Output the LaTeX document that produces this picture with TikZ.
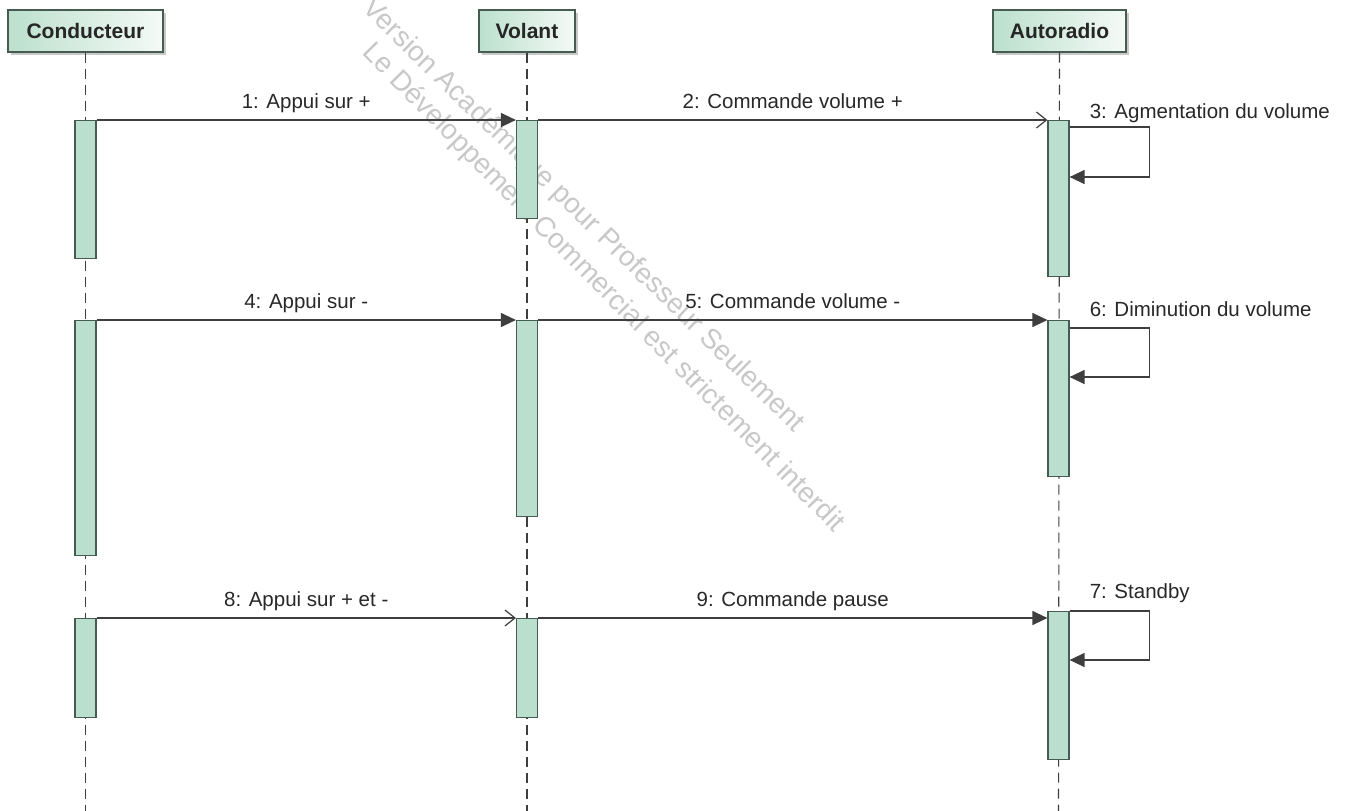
\documentclass[tikz,border=0pt]{standalone}
\usepackage{fontspec}
\setmainfont{Liberation Sans}
\usetikzlibrary{arrows.meta,shadows}

\definecolor{lineclr}{RGB}{62,62,62}
\definecolor{actfill}{RGB}{186,223,206}
\definecolor{actdraw}{RGB}{70,92,80}
\definecolor{headleft}{RGB}{188,224,205}
\definecolor{headright}{RGB}{244,250,247}
\definecolor{txtclr}{RGB}{40,40,40}
\definecolor{wmclr}{RGB}{200,200,200}

\tikzset{
  head/.style={draw=actdraw, line width=1.3pt, left color=headleft, right color=headright,
    minimum height=42pt, inner sep=0pt, text=black!85,
    font=\bfseries\fontsize{21}{24}\selectfont,
    drop shadow={shadow xshift=3pt, shadow yshift=-3pt, fill=black!35, opacity=0.6}},
  lifeline/.style={draw=lineclr, line width=1.1pt, dash pattern=on 10pt off 6pt},
  act/.style={draw=actdraw, fill=actfill, line width=1.2pt, minimum width=21pt,
    inner sep=0pt, anchor=north},
  msg/.style={draw=lineclr, line width=1.3pt},
  filled/.style={msg, -{Triangle[length=15pt,width=14pt]}},
  open/.style={msg, -{Straight Barb[length=10pt,width=16pt,line width=1.2pt]}},
  lbl/.style={text=txtclr, font=\fontsize{20.5}{24}\selectfont, inner sep=0pt},
  wm/.style={text=wmclr, font=\fontsize{28}{32}\selectfont, inner sep=0pt}
}

\begin{document}
\begin{tikzpicture}[x=1pt,y=-1pt]
\useasboundingbox (0,0) rectangle (1352,811);
\fill[white] (0,0) rectangle (1352,811);

% watermark lettering
\node[wm, rotate=-44.3] (wmA) at (583,216) {Version Académique pour Professeur Seulement};
\node[wm, rotate=-45.4] (wmB) at (603,288) {Le Développement Commercial est strictement interdit};

% lifeline heads
\node[head, minimum width=155pt] (cond) at (85.5,31) {Conducteur};
\node[head, minimum width=96pt] (vol) at (527,31) {Volant};
\node[head, minimum width=133pt] (auto) at (1059.5,31) {Autoradio};

\coordinate (condEnd) at (85.5,811);
\coordinate (volEnd) at (527,811);
\coordinate (autoEnd) at (1058.5,811);

\draw[lifeline] (cond.south) -- (condEnd);
\draw[lifeline] (vol.south) -- (volEnd);
\draw[lifeline] (auto.south) -- (autoEnd);

% activation bars
\node[act, minimum height=138pt] (c1) at (85.5,120) {};
\node[act, minimum height=98pt]  (v1) at (527,120) {};
\node[act, minimum height=156pt] (a1) at (1058.5,120) {};

\node[act, minimum height=235pt] (c2) at (85.5,320) {};
\node[act, minimum height=196pt] (v2) at (527,320) {};
\node[act, minimum height=156pt] (a2) at (1058.5,320) {};

\node[act, minimum height=99pt]  (c3) at (85.5,618) {};
\node[act, minimum height=99pt]  (v3) at (527,618) {};
\node[act, minimum height=148pt] (a3) at (1058.5,611) {};

% messages
\draw[filled] (c1.north east) -- node[lbl, midway, anchor=base, yshift=11.5pt] (m1) {1: Appui sur +} (v1.north west);
\draw[open] (v1.north east) -- node[lbl, midway, anchor=base, yshift=11.5pt] (m2) {2: Commande volume +} (a1.north west);
\draw[filled] ([yshift=-7pt]a1.north east) -- ++(80,0) |- ([yshift=-57pt]a1.north east);
\node[lbl, anchor=base west] (m3) at ([xshift=20pt,yshift=1.5pt]a1.north east) {3: Agmentation du volume};

\draw[filled] (c2.north east) -- node[lbl, midway, anchor=base, yshift=11.5pt] (m4) {4: Appui sur -} (v2.north west);
\draw[filled] (v2.north east) -- node[lbl, midway, anchor=base, yshift=11.5pt] (m5) {5: Commande volume -} (a2.north west);
\draw[filled] ([yshift=-8pt]a2.north east) -- ++(80,0) |- ([yshift=-57pt]a2.north east);
\node[lbl, anchor=base west] (m6) at ([xshift=20pt,yshift=3.5pt]a2.north east) {6: Diminution du volume};

\draw[open] (c3.north east) -- node[lbl, midway, anchor=base, yshift=11.5pt] (m8) {8: Appui sur + et -} (v3.north west);
\draw[filled] (v3.north east) -- node[lbl, midway, anchor=base, yshift=11.5pt] (m9) {9: Commande pause} (v3.north east -| a3.west);
\draw[filled] (a3.north east) -- ++(80,0) |- ([yshift=-49pt]a3.north east);
\node[lbl, anchor=base west] (m7) at ([xshift=20pt,yshift=12.5pt]a3.north east) {7: Standby};
\end{tikzpicture}
\end{document}
